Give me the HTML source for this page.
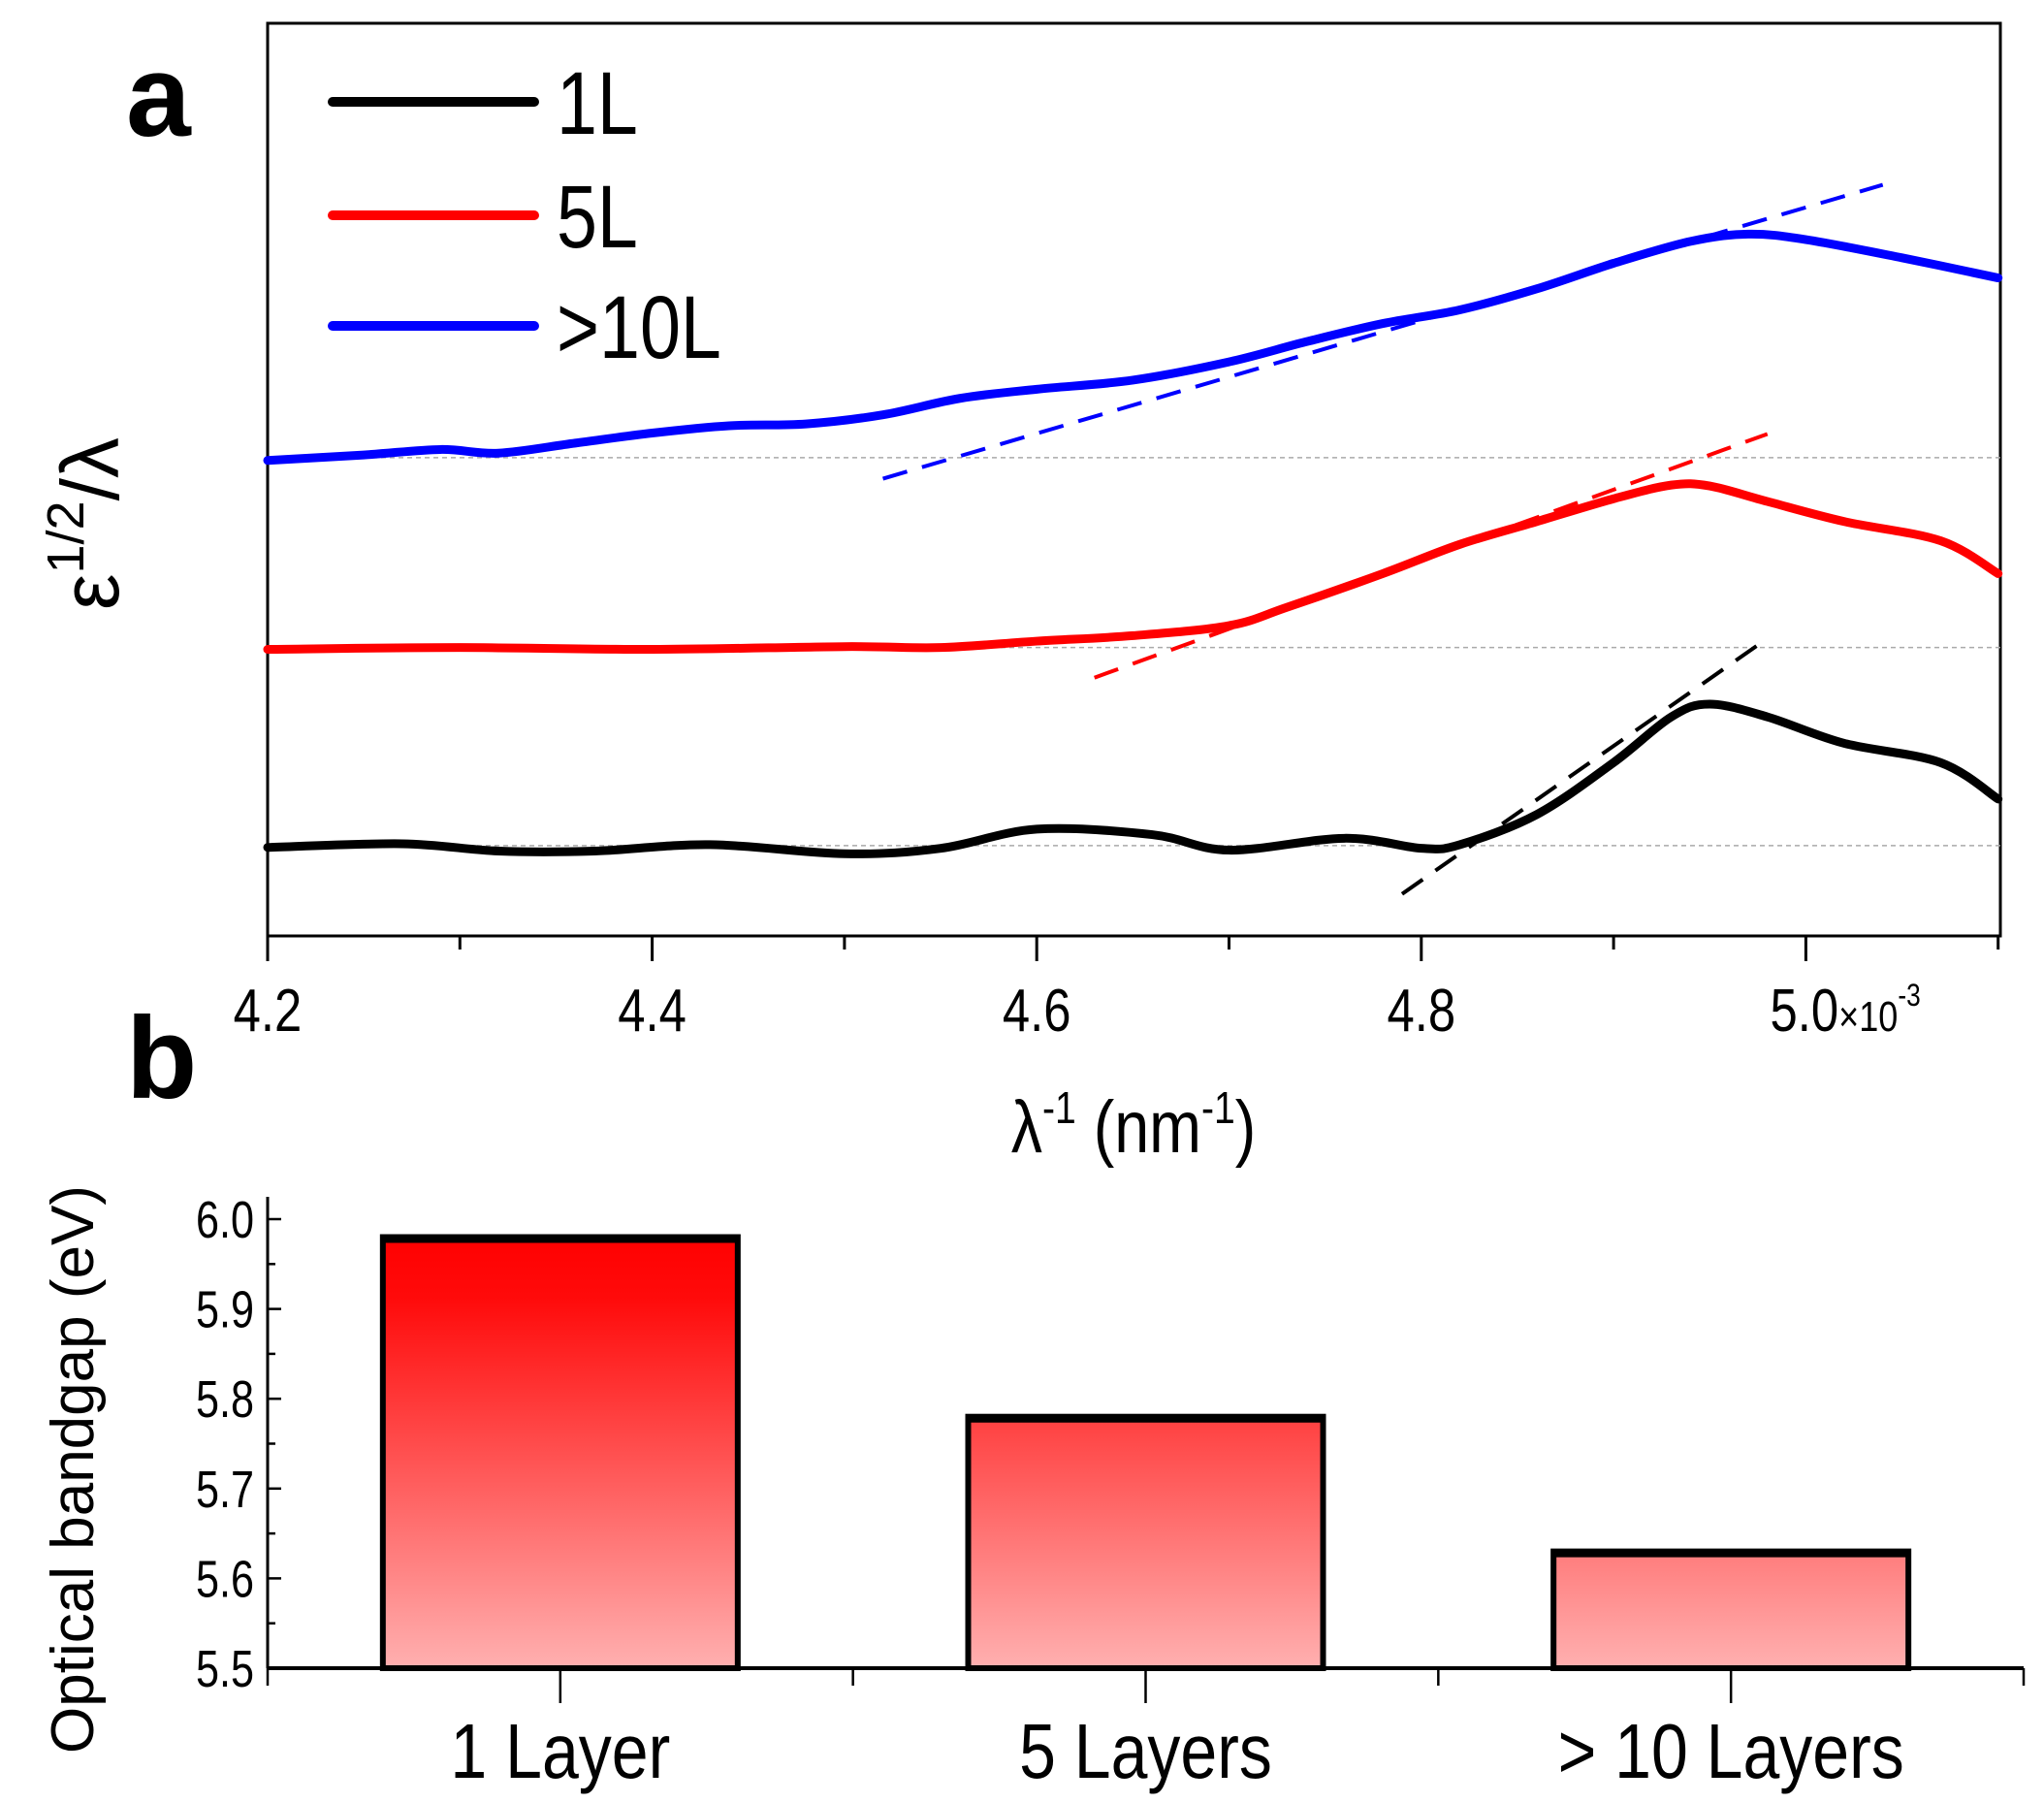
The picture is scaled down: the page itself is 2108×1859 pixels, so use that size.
<!DOCTYPE html>
<html><head><meta charset="utf-8"><style>
html,body{margin:0;padding:0;background:#fff;}
svg{display:block;font-family:"Liberation Sans",Arial,sans-serif;}
</style></head><body>
<svg id="fig" width="2108" height="1859" viewBox="0 0 2108 1859" xmlns="http://www.w3.org/2000/svg">
<defs>
<linearGradient id="barGrad" gradientUnits="userSpaceOnUse" x1="0" y1="1270" x2="0" y2="1720">
<stop offset="0" stop-color="#ff0000"/><stop offset="0.15" stop-color="#ff0a0a"/><stop offset="1" stop-color="#ffb0b0"/>
</linearGradient>
</defs>
<text x="130" y="140" font-size="120" font-weight="bold">a</text>
<text x="130" y="1132" font-size="120" font-weight="bold">b</text>
<g id="chartA"></g>
<g id="chartB"></g>
</svg>
<script>
// ---- Panel a data ----
const blueX = [4.2,4.25,4.29,4.32,4.36,4.4,4.44,4.48,4.52,4.56,4.6,4.65,4.7,4.74,4.78,4.82,4.86,4.9,4.94,4.97,5.0,5.05,5.1];
const blueY = [52.1,52.7,53.3,52.9,54.0,55.1,55.9,56.1,57.1,58.9,59.9,60.9,62.9,65.1,67.1,68.6,70.9,73.7,76.1,76.9,76.3,74.3,72.1];
const redX = [4.2,4.3,4.4,4.5,4.55,4.6,4.65,4.7,4.73,4.78,4.82,4.86,4.9,4.93,4.95,4.98,5.02,5.07,5.1];
const redY = [31.4,31.6,31.4,31.7,31.6,32.3,32.9,34.0,36.0,39.7,42.9,45.4,47.9,49.4,49.3,47.6,45.4,43.3,39.7];
const blackX = [4.2,4.27,4.32,4.37,4.43,4.5,4.55,4.6,4.66,4.7,4.76,4.8,4.82,4.86,4.9,4.93,4.95,4.98,5.02,5.07,5.1];
const blackY = [9.7,10.1,9.3,9.3,10.0,9.0,9.6,11.7,11.1,9.4,10.7,9.6,10.0,13.3,19.0,24.0,25.4,24.0,21.1,19.0,15.0];
const baselines = [52.4,31.6,9.9];
const tangentX = [[4.52,5.04],[4.63,4.98],[4.79,4.98]];
const tangentY = [[50.1,82.3],[28.3,55.0],[4.6,32.6]];
const xTicks = [4.2,4.4,4.6,4.8,5.0];
const xTickLabels = ["4.2","4.4","4.6","4.8","5.0"];
// ---- Panel b data ----
const categories = ["1 Layer","5 Layers","> 10 Layers"];
const bandgaps = [5.98,5.78,5.63];
const yTicksB = [5.5,5.6,5.7,5.8,5.9,6.0];

const NS="http://www.w3.org/2000/svg";
function mk(parent,tag,attrs){const e=document.createElementNS(NS,tag);for(const k in attrs)e.setAttribute(k,attrs[k]);parent.appendChild(e);return e;}
function smooth(pts){
 let d='M'+pts[0][0]+','+pts[0][1];
 for(let i=0;i<pts.length-1;i++){
  const p0=pts[Math.max(0,i-1)],p1=pts[i],p2=pts[i+1],p3=pts[Math.min(pts.length-1,i+2)];
  const c1=[p1[0]+(p2[0]-p0[0])/6,p1[1]+(p2[1]-p0[1])/6];
  const c2=[p2[0]-(p3[0]-p1[0])/6,p2[1]-(p3[1]-p1[1])/6];
  d+=` C${c1[0]},${c1[1]} ${c2[0]},${c2[1]} ${p2[0]},${p2[1]}`;
 }
 return d;
}

// Panel a axes
const A={l:276,r:2063,t:24,b:965};
const xA=v=>A.l+(v-4.2)/0.1*198.3;
const yA=v=>A.b-v*9.41;
const ga=document.getElementById('chartA');
let fr=mk(ga,'rect',{x:A.l,y:A.t,width:A.r-A.l,height:A.b-A.t,fill:'none',stroke:'#000','stroke-width':3});


baselines.forEach((b,i)=>{
 const l=mk(ga,'line',{x1:A.l,x2:A.r,y1:yA(b),y2:yA(b),stroke:'#aaa','stroke-width':1.5,'stroke-dasharray':'5 4'});
 
 
});
for(let v=4.2;v<=5.101;v+=0.1){
 const major=Math.abs(Math.round(v*10)%2)===0;
 const t=mk(ga,'line',{x1:xA(v),x2:xA(v),y1:A.b,y2:A.b+(major?26:14),stroke:'#000','stroke-width':3});
 
 
}
xTicks.forEach((v,i)=>{
 const cx=xA(v);
 const t=mk(ga,'text',{x:cx,y:1063,'font-size':62,'text-anchor':'middle',transform:`translate(${cx},0) scale(0.82,1) translate(${-cx},0)`});
 t.textContent=xTickLabels[i];
 if(i===4){t.setAttribute('text-anchor','start');t.setAttribute('x',cx-45);
  const s=mk(t,'tspan',{'font-size':44});s.textContent='×10';
  const s2=mk(t,'tspan',{'font-size':32,dy:-26});s2.textContent='-3';}
 
 
});
const series=[[blackX,blackY,'#000'],[redX,redY,'#ff0000'],[blueX,blueY,'#0000ff']];
const names=['series-1l','series-5l','series-10l'];
series.forEach((s,i)=>{
 const pts=s[0].map((x,j)=>[xA(x),yA(s[1][j])]);
 const p=mk(ga,'path',{d:smooth(pts),fill:'none',stroke:s[2],'stroke-width':9,'stroke-linejoin':'round','stroke-linecap':'round'});
 
 
});
const tcol=['#0000ff','#ff0000','#000'];
tangentX.forEach((tx,i)=>{
 const l=mk(ga,'line',{x1:xA(tx[0]),x2:xA(tx[1]),y1:yA(tangentY[i][0]),y2:yA(tangentY[i][1]),stroke:tcol[i],'stroke-width':4,'stroke-dasharray':'26 16'});
 
 
});
const leg=[['1L','#000',105],['5L','#ff0000',222],['>10L','#0000ff',336]];
leg.forEach((e,i)=>{
 const l=mk(ga,'line',{x1:343,x2:551,y1:e[2],y2:e[2],stroke:e[1],'stroke-width':10,'stroke-linecap':'round'});
 
 
 const t=mk(ga,'text',{x:574,y:e[2]+33,'font-size':92,transform:`translate(574,0) scale(0.82,1) translate(-574,0)`});
 t.textContent=e[0];
 
 
});
let yt=mk(ga,'text',{x:0,y:0,'font-size':84,'text-anchor':'middle',transform:'translate(122,540) rotate(-90)'});
yt.innerHTML='ε<tspan font-size="54" dy="-36">1/2</tspan><tspan dy="36">/λ</tspan>';


let xt=mk(ga,'text',{x:1169,y:1188,'font-size':76,'text-anchor':'middle',transform:'translate(1169,0) scale(0.85,1) translate(-1169,0)'});
xt.innerHTML='λ<tspan font-size="46" dy="-30">-1</tspan><tspan dy="30"> (nm</tspan><tspan font-size="46" dy="-30">-1</tspan><tspan dy="30">)</tspan>';



// Panel b
const B={l:276,r:2087,t:1234,b:1720};
const yB=v=>B.b-(v-5.5)/0.5*(1720-1257);
const bandW=(B.r-B.l)/3;
const xB=i=>B.l+bandW*(i+0.5);
const gb=document.getElementById('chartB');
let ya=mk(gb,'line',{x1:B.l,x2:B.l,y1:B.t,y2:B.b,stroke:'#000','stroke-width':3});


for(let v=5.5;v<=6.001;v+=0.05){
 const major=Math.abs(Math.round(v*100)%10)===0;
 const t=mk(gb,'line',{x1:B.l,x2:B.l+(major?14:8),y1:yB(v),y2:yB(v),stroke:'#000','stroke-width':2.5});
 
 
}
yTicksB.forEach(v=>{
 const t=mk(gb,'text',{x:262,y:yB(v)+19,'font-size':54,'text-anchor':'end',transform:'translate(262,0) scale(0.8,1) translate(-262,0)'});
 t.textContent=v.toFixed(1);
 
 
});
for(let i=0;i<=3;i++){
 const t=mk(gb,'line',{x1:B.l+bandW*i,x2:B.l+bandW*i,y1:B.b,y2:B.b+18,stroke:'#000','stroke-width':2.5});
 
 
}
categories.forEach((c,i)=>{
 const t=mk(gb,'line',{x1:xB(i),x2:xB(i),y1:B.b,y2:B.b+36,stroke:'#000','stroke-width':2.5});
 
 
 const bw=366;
 const r=mk(gb,'rect',{x:xB(i)-bw/2,y:yB(bandgaps[i]),width:bw,height:B.b-yB(bandgaps[i]),fill:'url(#barGrad)',stroke:'#000','stroke-width':6});
 
 
 const top=mk(gb,'line',{x1:xB(i)-bw/2,x2:xB(i)+bw/2,y1:yB(bandgaps[i])+2,y2:yB(bandgaps[i])+2,stroke:'#000','stroke-width':8});
 
 
 const l=mk(gb,'text',{x:xB(i),y:1833,'font-size':80,'text-anchor':'middle',transform:`translate(${xB(i)},0) scale(0.85,1) translate(${-xB(i)},0)`});
 l.textContent=c;
 
 
});
let xa=mk(gb,'line',{x1:B.l,x2:B.r,y1:B.b,y2:B.b,stroke:'#000','stroke-width':4});


let ybt=mk(gb,'text',{x:0,y:0,'font-size':62,'text-anchor':'middle',transform:'translate(96,1515) rotate(-90)'});
ybt.textContent='Optical bandgap (eV)';


</script>
</body></html>
